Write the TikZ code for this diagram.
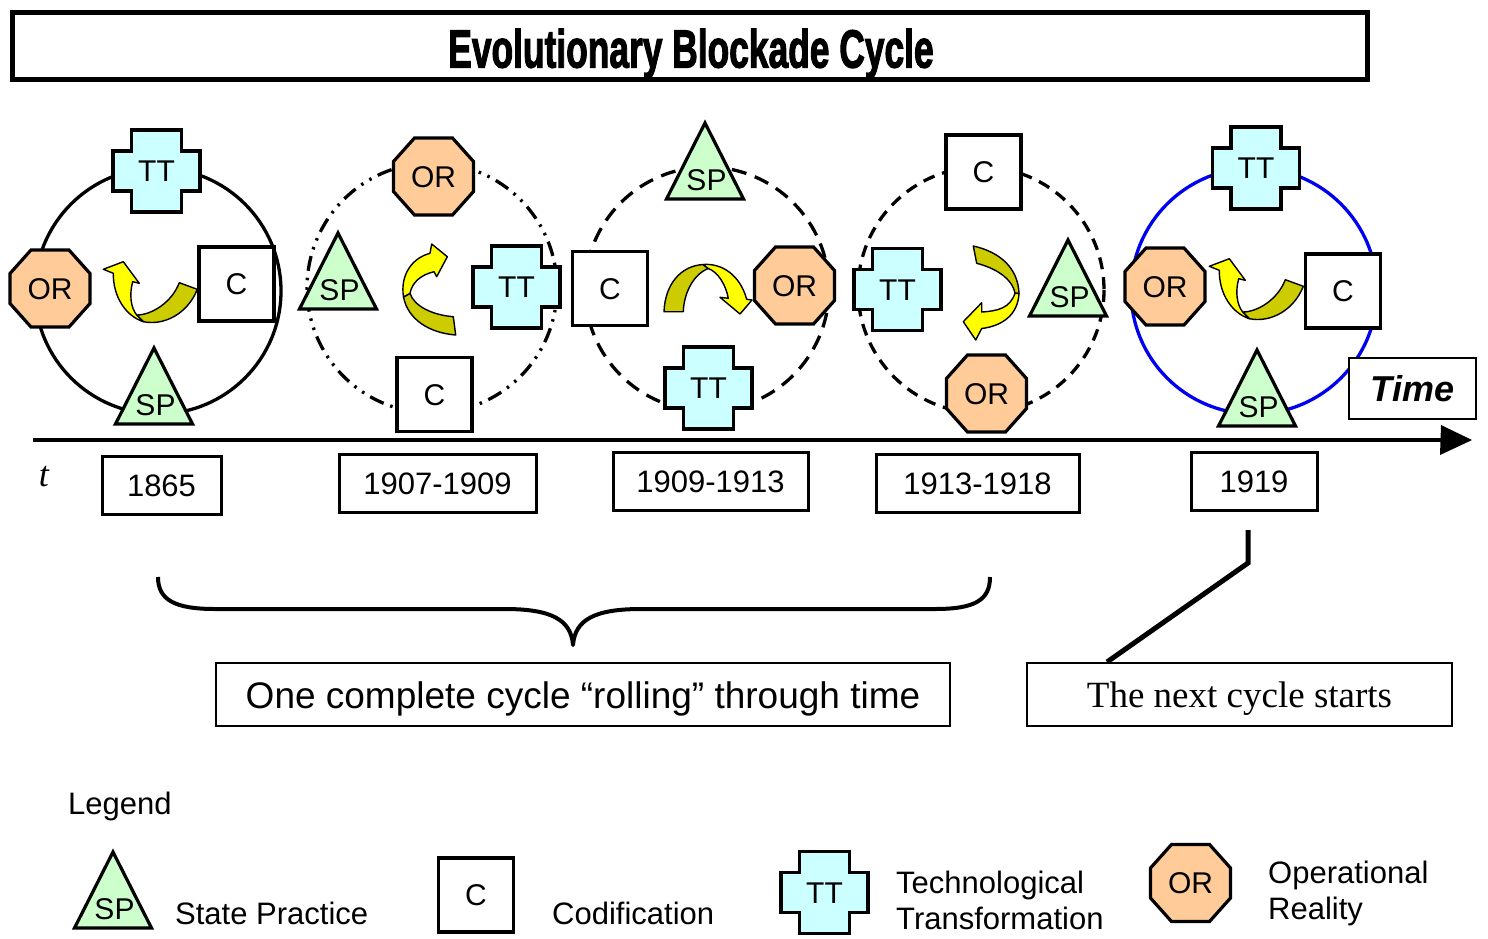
\documentclass[tikz,border=0pt]{standalone}
\usepackage{fontspec}
\setmainfont{Liberation Sans}
\newfontfamily\serifface{Liberation Serif}
\newfontfamily\titleface{Liberation Sans}[BoldFeatures={FakeBold=2.5}]
\usetikzlibrary{calc}

\definecolor{ttfill}{HTML}{CCFFFF}
\definecolor{orfill}{HTML}{FFCC99}
\definecolor{spfill}{HTML}{CCFFCC}
\definecolor{ribbonfront}{HTML}{FFFF00}
\definecolor{ribbonback}{HTML}{CCCC00}
\definecolor{ringblue}{HTML}{0000F0}

\newcommand\fsz[1]{\fontsize{#1}{#1}\selectfont}

\tikzset{
  shapeline/.style={draw=black, line width=3.2, line join=miter},
  lbl/.style={font=\fsz{30}, inner sep=0pt, text height=21.5pt, text depth=0pt},
  cbox/.style={shapeline, fill=white, minimum width=75pt, minimum height=74pt,
               inner sep=0pt, font=\fsz{30}, text height=21.5pt, text depth=0pt},
  ring/.style={line width=3.3},
  yearbox/.style={draw, line width=3, fill=white, font=\fsz{31}, inner sep=0pt,
                  text height=22pt, text depth=0pt, minimum height=58pt},
  textbox/.style={draw, line width=2, fill=white, inner sep=0pt, minimum height=63pt},
  front/.style={fill=ribbonfront, draw=black, line width=1.4, line join=round},
  back/.style={fill=ribbonback, draw=black, line width=1.4, line join=round},
  legendtext/.style={font=\fsz{31}, inner sep=0pt, anchor=base west},
}

% Technological Transformation: stepped cross
\newcommand\ttshape[3]{%
  \filldraw[shapeline, fill=ttfill, shift={(#2,#3)}]
    (-25,-41) -- (25,-41) -- (25,-20) -- (43.5,-20) -- (43.5,20) -- (25,20)
    -- (25,41) -- (-25,41) -- (-25,20) -- (-43.5,20) -- (-43.5,-20) -- (-25,-20) -- cycle;
  \node[lbl] (#1) at (#2,#3) {TT};}

% Operational Reality: octagon
\newcommand\orshape[3]{%
  \filldraw[shapeline, fill=orfill, shift={(#2,#3)}]
    (-19,-38.5) -- (19,-38.5) -- (40,-15) -- (40,15) -- (19,38.5) -- (-19,38.5)
    -- (-40,15) -- (-40,-15) -- cycle;
  \node[lbl] (#1) at (#2,#3) {OR};}

% State Practice: triangle given by its apex
\newcommand\spshape[3]{%
  \filldraw[shapeline, fill=spfill] (#2,#3) -- ++(38.5,76) -- ++(-77,0) -- cycle;
  \node[lbl] (#1) at ({#2+1.5},{#3+57}) {SP};}

% Codification: square
\newcommand\cshape[3]{%
  \node[cbox] (#1) at (#2,#3) {C};}

% turning ribbon arrow of the first and last cycle
\newcommand\uturn[2]{%
  \begin{scope}[shift={(#1,#2)}]
    \filldraw[back] (136.7,315) .. controls (152,315) and (172,302) .. (179.3,282.7)
      -- (197.3,289.3) .. controls (188,313) and (165,326) .. (143.3,321.7) -- cycle;
    \filldraw[front] (103.3,269.3) -- (123.3,261.7) -- (139.3,283.3) -- (132.7,281.7)
      .. controls (129,295) and (131,308) .. (136.7,315) -- (143.3,321.7)
      .. controls (126,316) and (113,297) .. (113.3,273.3) -- cycle;
  \end{scope}}

\begin{document}
\begin{tikzpicture}[x=1pt, y=-1pt]
\useasboundingbox (0,0) rectangle (1488,938);

% ---------- title ----------
\node[draw, line width=5, minimum width=1355pt, minimum height=67pt, inner sep=0pt] (titlebox) at (690,46) {};
\node[inner sep=0pt, text height=37pt, text depth=0pt] (title) at (691,49)
  {\scalebox{0.68}[1.03]{\titleface\fsz{52}\bfseries Evolutionary Blockade Cycle}};

% ---------- cycle rings ----------
\draw[ring] (158,291) circle[radius=123];
\draw[ring, dash pattern=on 15pt off 7pt on 2.5pt off 7pt on 2.5pt off 7pt] (432,288) circle[radius=125];
\draw[ring, dash pattern=on 15pt off 9pt] (707,289) circle[radius=122];
\draw[ring, dash pattern=on 12pt off 8pt] (981,290) circle[radius=123];
\draw[ring, draw=ringblue] (1254,291) circle[radius=123];

% ---------- cycle 1 (1865) ----------
\ttshape{a-tt}{156.5}{171}
\orshape{a-or}{50}{288.5}
\cshape{a-c}{236.5}{284}
\spshape{a-sp}{154}{348}
\uturn{0}{0}

% ---------- cycle 2 (1907-1909) ----------
\orshape{b-or}{433.5}{176.5}
\spshape{b-sp}{338}{233}
\ttshape{b-tt}{516.5}{287}
\cshape{b-c}{434.5}{394.5}
\filldraw[back] (410,293.3) .. controls (414,306) and (432,315) .. (453.3,316.7)
  -- (455.7,335) .. controls (430,333) and (408,320) .. (403.5,297) -- cycle;
\filldraw[front] (447.3,256.7) -- (436.7,276.7) -- (434,271.7)
  .. controls (420,275) and (412,283) .. (410,293.3) -- (403.5,297)
  .. controls (400,275) and (412,258) .. (430,253.3) -- (431.7,244) -- cycle;

% ---------- cycle 3 (1909-1913) ----------
\spshape{c-sp}{705}{123}
\cshape{c-c}{610}{288.5}
\orshape{c-or}{794.5}{285.5}
\ttshape{c-tt}{708.5}{388}
\filldraw[back] (703,264.5) .. controls (680,266) and (665,285) .. (664,311.7)
  -- (683.3,311.7) .. controls (684,292) and (694,274) .. (708.3,268.5) -- cycle;
\filldraw[front] (703,264.5) .. controls (722,263) and (740,275) .. (746.7,299.3)
  -- (752,300) -- (740,314) -- (720,297.3) -- (728.3,298.3)
  .. controls (726,285) and (718,272) .. (708.3,268.5) -- cycle;

% ---------- cycle 4 (1913-1918) ----------
\cshape{d-c}{983.5}{172}
\ttshape{d-tt}{897.5}{289.5}
\spshape{d-sp}{1068}{240}
\orshape{d-or}{986.5}{393.5}
\filldraw[back] (973.3,246) .. controls (1000,252) and (1018,268) .. (1019,293.3)
  -- (1015,293.3) .. controls (1012,278) and (995,268) .. (976.7,263.3) -- cycle;
\filldraw[front] (1015,293.3) .. controls (1010,308) and (998,311) .. (981.7,312)
  -- (981.7,302.7) -- (963.3,321.7) -- (975.7,340) -- (981.7,328.5)
  .. controls (1002,326) and (1018,315) .. (1019,293.3) -- cycle;

% ---------- cycle 5 (1919) ----------
\node[textbox, line width=1.6, minimum width=127pt, minimum height=61pt,
      font=\fsz{36}\bfseries\itshape, text height=26pt, text depth=0pt] (timebox) at (1412.5,388.5) {Time};
\ttshape{e-tt}{1256}{168}
\orshape{e-or}{1165}{286.5}
\cshape{e-c}{1343}{291}
\spshape{e-sp}{1257}{350}
\uturn{1106}{-3}

% ---------- time axis ----------
\coordinate (axis-start) at (33,440);
\coordinate (axis-end) at (1441,440);
\coordinate (axis-tip) at (1472,440);
\draw[line width=4] (axis-start) -- (axis-end);
\fill (axis-end) ++(0,-15) -- (axis-tip) -- ++(-32,15) -- cycle;
\node[font=\serifface\itshape\fsz{36}, inner sep=0pt] (tlabel) at (44,477) {t};

% ---------- periods ----------
\node[yearbox, minimum width=119pt] (y1865) at (161.5,485) {1865};
\node[yearbox, minimum width=197pt] (y1907) at (437.5,483) {1907-1909};
\node[yearbox, minimum width=195pt] (y1909) at (710.5,481.5) {1909-1913};
\node[yearbox, minimum width=203pt] (y1913) at (977.5,483) {1913-1918};
\node[yearbox, minimum width=126pt] (y1919) at (1254,481) {1919};

% ---------- brace over one full cycle ----------
\draw[line width=4, line join=round]
  (158,577) .. controls (158,600) and (175,609) .. (215,609) -- (505,609)
  .. controls (552,609) and (571,620) .. (573,645)
  .. controls (575,620) and (594,609) .. (641,609) -- (935,609)
  .. controls (975,609) and (990,600) .. (990,577);

\node[textbox, minimum width=734pt, font=\fsz{37}, text height=27pt, text depth=0pt] (onecycle) at (583,694.5)
  {One complete cycle “rolling” through time};
\node[textbox, minimum width=425pt, font=\serifface\fsz{37}, text height=25pt, text depth=0pt] (nextbox) at (1239.5,694.5)
  {The next cycle starts};

% pointer from 1919 to the next cycle
\coordinate (ptr-start) at (1248,530);
\coordinate (ptr-knee) at (1248,563);
\draw[line width=5] (ptr-start) -- (ptr-knee) -- ([xshift=81pt]nextbox.north west);

% ---------- legend ----------
\node[legendtext] (legend) at (68,814) {Legend};
\spshape{l-sp}{113}{852}
\node[legendtext] (l-sp-text) at (175,924) {State Practice};
\cshape{l-c}{476}{895}
\node[legendtext] (l-c-text) at (552,924) {Codification};
\ttshape{l-tt}{824.5}{892.5}
\node[legendtext] (l-tt-text1) at (896,893) {Technological};
\node[legendtext] (l-tt-text2) at (896,929) {Transformation};
\orshape{l-or}{1190.5}{883}
\node[legendtext] (l-or-text1) at (1268,883) {Operational};
\node[legendtext] (l-or-text2) at (1268,919) {Reality};

\end{tikzpicture}
\end{document}
